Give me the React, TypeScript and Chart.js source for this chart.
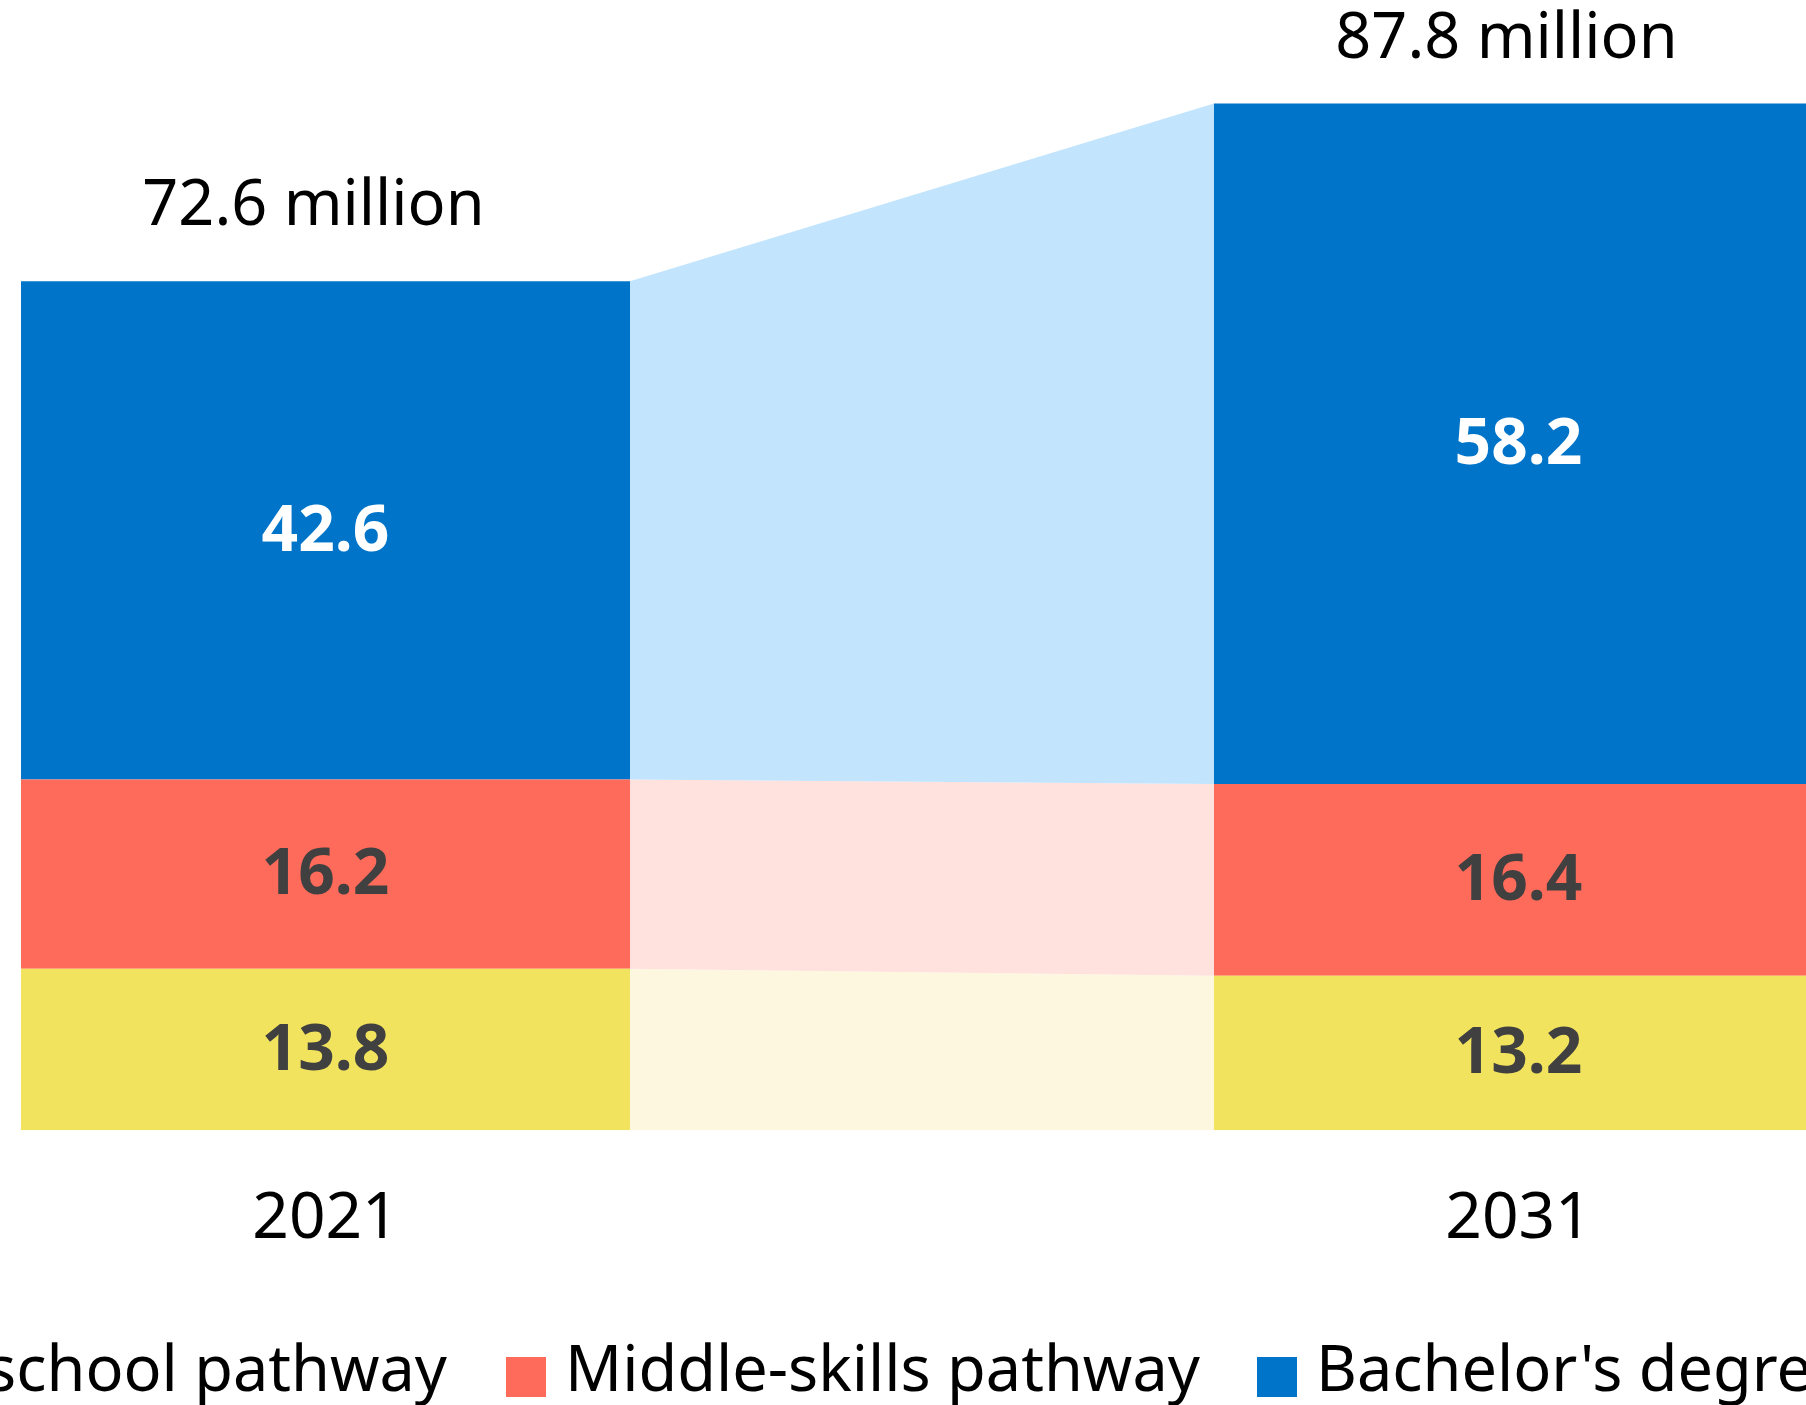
import React, { useEffect, useRef } from 'react';
import { Chart, registerables } from 'chart.js';

Chart.register(...registerables);

// ---- Data ----
const categories = ['2021', '2031'];
const highSchool = [13.8, 13.2];
const middleSkills = [16.2, 16.4];
const bachelors = [42.6, 58.2];
const seriesNames = ['High school pathway', 'Middle-skills pathway', "Bachelor's degree"];
const seriesColors = ['#F2E35E', '#FF6B5A', '#0074C8'];
const bandColors = ['#FDF7DF', '#FFE1DE', '#C2E4FD'];
const valueLabelColors = ['#404040', '#404040', '#FFFFFF'];
const totalSuffix = ' million';

const FONT = '"Noto Sans", sans-serif';
const Y_MAX = 96.66;

const seriesValues = [highSchool, middleSkills, bachelors];

const bandPlugin = {
  id: 'bands',
  beforeDatasetsDraw(chart: any) {
    const ctx = chart.ctx;
    chart.data.datasets.forEach((_ds: any, i: number) => {
      const meta = chart.getDatasetMeta(i);
      for (let j = 0; j < meta.data.length - 1; j++) {
        const a: any = meta.data[j];
        const b: any = meta.data[j + 1];
        const ax = a.x + a.width / 2;
        const bx = b.x - b.width / 2;
        ctx.save();
        ctx.fillStyle = bandColors[i];
        ctx.beginPath();
        ctx.moveTo(ax, a.y);
        ctx.lineTo(bx, b.y);
        ctx.lineTo(bx, b.base);
        ctx.lineTo(ax, a.base);
        ctx.closePath();
        ctx.fill();
        ctx.restore();
      }
    });
  },
};

const labelPlugin = {
  id: 'valueLabels',
  afterDatasetsDraw(chart: any) {
    const ctx = chart.ctx;
    ctx.save();
    ctx.textAlign = 'center';
    ctx.textBaseline = 'middle';
    ctx.font = `bold 64px ${FONT}`;
    chart.data.datasets.forEach((ds: any, i: number) => {
      const meta = chart.getDatasetMeta(i);
      meta.data.forEach((bar: any, j: number) => {
        ctx.fillStyle = valueLabelColors[i];
        ctx.fillText(ds.data[j].toFixed(1), bar.x, (bar.y + bar.base) / 2 + 2);
      });
    });
    // totals
    ctx.font = `63px ${FONT}`;
    ctx.fillStyle = '#000000';
    ctx.textBaseline = 'alphabetic';
    const lastMeta = chart.getDatasetMeta(chart.data.datasets.length - 1);
    categories.forEach((_c, j) => {
      const total = seriesValues.reduce((s, arr) => s + arr[j], 0);
      const bar: any = lastMeta.data[j];
      const y = Math.max(bar.y - 56, 58);
      ctx.fillText(total.toFixed(1) + totalSuffix, bar.x - 12, y);
    });
    ctx.restore();
  },
};

const legendLeft = [null, 506, 1257];
const legendRightEnd = 447;

export default function App() {
  const ref = useRef<HTMLCanvasElement>(null);

  useEffect(() => {
    const chart = new Chart(ref.current as HTMLCanvasElement, {
      type: 'bar',
      data: {
        labels: categories,
        datasets: seriesValues.map((vals, i) => ({
          label: seriesNames[i],
          data: vals,
          backgroundColor: seriesColors[i],
          borderWidth: 0,
          categoryPercentage: 1,
          barPercentage: 0.5105,
        })),
      },
      options: {
        responsive: false,
        devicePixelRatio: 1,
        animation: false,
        layout: { padding: { top: 0, left: 0, right: 0, bottom: 96 } },
        plugins: {
          legend: { display: false },
          tooltip: { enabled: false },
        },
        scales: {
          x: {
            stacked: true,
            grid: { display: false, drawTicks: false },
            border: { display: false },
            ticks: {
              color: '#000000',
              padding: 51,
              font: { family: FONT, size: 64 },
            },
          },
          y: {
            stacked: true,
            display: false,
            min: 0,
            max: Y_MAX,
          },
        },
      },
      plugins: [bandPlugin, labelPlugin],
    } as any);
    return () => chart.destroy();
  }, []);

  const legendItem = (i: number) => {
    const posStyle: any =
      legendLeft[i] === null ? { right: 1806 - legendRightEnd } : { left: legendLeft[i] };
    return (
      <div
        key={i}
        style={{
          position: 'absolute',
          top: 1335,
          height: 64,
          display: 'flex',
          alignItems: 'flex-start',
          ...posStyle,
        }}
      >
        <div
          style={{
            width: 40,
            height: 40,
            marginTop: 22,
            marginRight: 19,
            background: seriesColors[i],
            flex: '0 0 auto',
          }}
        />
        <span
          style={{
            fontFamily: FONT,
            fontSize: 63,
            lineHeight: '64px',
            color: '#000',
            whiteSpace: 'nowrap',
          }}
        >
          {seriesNames[i]}
        </span>
      </div>
    );
  };

  return (
    <div
      style={{
        position: 'absolute',
        left: 0,
        top: 0,
        width: 1806,
        height: 1405,
        overflow: 'hidden',
        background: '#ffffff',
      }}
    >
      <canvas
        ref={ref}
        width={2386}
        height={1405}
        style={{ position: 'absolute', left: -271, top: 0, width: 2386, height: 1405 }}
      />
      {seriesNames.map((_n, i) => legendItem(i))}
    </div>
  );
}
